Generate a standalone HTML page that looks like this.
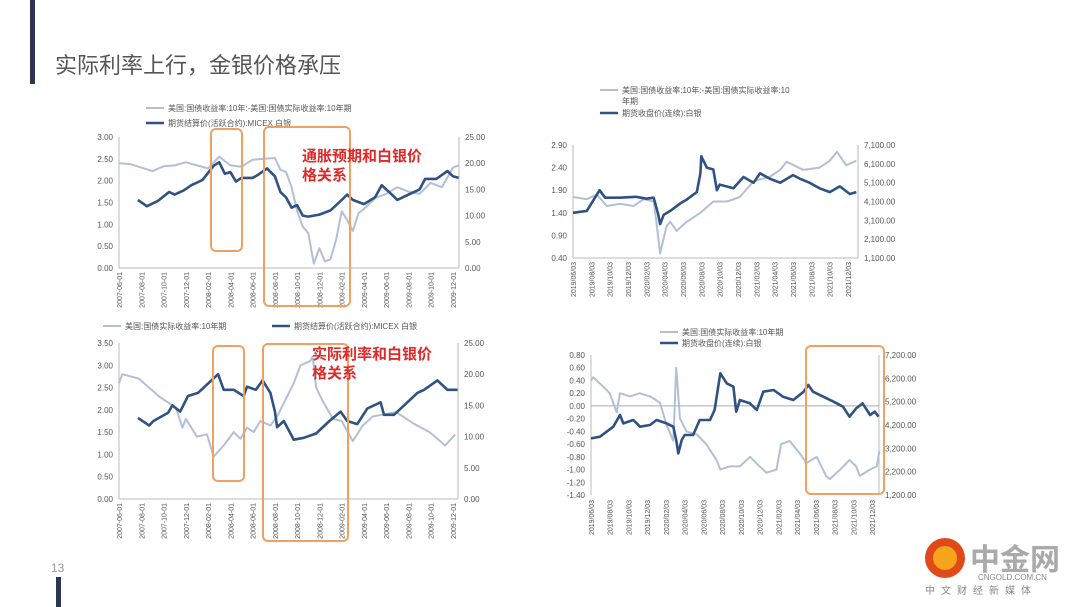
<!DOCTYPE html>
<html><head><meta charset="utf-8"><style>
html,body{margin:0;padding:0;background:#fff;}
svg{display:block;font-family:"Liberation Sans","Noto Sans CJK SC",sans-serif;}
</style></head><body>
<svg id="s" width="1080" height="607" viewBox="0 0 1080 607" xmlns="http://www.w3.org/2000/svg">
<rect x="0" y="0" width="1080" height="607" fill="#fff"/>
<rect x="30" y="0" width="5" height="84" fill="#2e3550"/>
<text x="55" y="73" font-size="22" fill="#555">实际利率上行，金银价格承压</text>
<text x="51" y="572" font-size="12" fill="#999">13</text>
<rect x="56" y="577" width="5" height="30" fill="#2e3550"/>
<g>
<circle cx="945" cy="558" r="20" fill="#e04a1a"/>
<circle cx="945" cy="558" r="12" fill="#f7a51c"/>
<text x="970" y="570" font-size="30" font-weight="bold" fill="#aaa">中金网</text>
<text x="978" y="580" font-size="8" fill="#888">CNGOLD.COM.CN</text>
<text x="925" y="594" font-size="10" fill="#888" letter-spacing="6">中文财经新媒体</text>
</g>
</svg>
<script>
// ---- Chart 1 data (months from 2007-06) ----
const c1LightM=[0,1,2,3,4,5,6,7,8,9,10,11,12,13,14,14.5,15,15.5,16,16.5,17,17.5,18,18.5,19,19.5,20,20.5,21,21.5,22,23,24,25,26,27,28,29,30,30.5];
const c1LightV=[2.40,2.38,2.30,2.22,2.33,2.35,2.42,2.35,2.28,2.55,2.35,2.32,2.48,2.50,2.52,2.25,2.20,1.85,1.30,0.95,0.80,0.10,0.45,0.15,0.20,0.65,1.30,1.10,0.85,1.25,1.35,1.60,1.70,1.85,1.75,1.70,1.95,1.85,2.30,2.35];
const c1DarkM=[1.7,2.5,3.5,4.5,5,5.8,6.5,7.5,8.5,9,9.5,10,10.5,11,12,12.5,13.3,14,14.5,15,15.5,16,16.5,17,18,19,20,20.5,21,22,23,23.6,24.5,25,26,27,27.5,28.5,29.5,30,30.5];
const c1DarkV=[13,11.8,12.8,14.5,14,14.8,15.8,16.8,19.5,20.2,18,18.3,16.5,17.2,17.2,17.8,19,17.5,14.5,13.5,11.5,12,10,9.8,10.2,11,13,14,13,12.2,13.5,15.8,14,13,14,15,17,17,18.5,17.5,17.2];
// ---- Chart 3 data ----
const c3LightM=[0,0.3,1.8,3.6,5.1,5.7,6,7,7.9,8.5,9.4,10.3,10.9,11.5,12.1,12.7,13.6,14.2,15.7,16.3,17.2,17.4,17.7,18.3,19.2,20,21,21.9,22.8,24.9,26.4,27.9,29.3,30.2];
const c3LightV=[2.60,2.80,2.70,2.30,2.05,1.60,1.80,1.40,1.45,0.95,1.20,1.50,1.35,1.60,1.50,1.75,1.65,1.85,2.60,3.00,3.10,3.20,2.50,2.20,1.80,1.75,1.30,1.65,1.85,1.95,1.70,1.50,1.20,1.45];
const c3DarkM=[1.7,2.7,3.1,4.1,4.4,4.8,5.5,6.2,7.1,8.9,9.4,10.3,11.2,11.5,12.3,12.9,13.6,14.0,14.2,14.8,15.7,16.6,17.7,18.9,19.9,20.5,21.4,22.3,23.5,23.8,24.7,25.9,26.8,27.4,28.6,29.5,30.1,30.4];
const c3DarkV=[13,11.8,12.5,13.5,13.8,15,14,16.5,17,20,17.5,17.5,16.5,18,17.5,19,17,14,11.5,12.5,9.5,9.8,10.5,12.5,14,12.5,12,14.5,15.5,13.5,13.5,15.5,17,17.5,19,17.5,17.5,17.5];
// ---- Chart 2 data (months from 2019/06/03) ----
const c2LightM=[0,1.5,2.6,3.7,5.1,6.6,7.7,8.8,9.1,9.5,10.2,10.6,11.3,12.4,13.9,15.3,16.8,18.2,19.7,21.5,22.6,23.3,25.1,26.9,28.0,28.8,29.8,30.9];
const c2LightV=[1.75,1.70,1.80,1.55,1.60,1.55,1.70,1.65,1.20,0.50,1.10,1.20,1.00,1.20,1.40,1.65,1.65,1.75,2.10,2.20,2.35,2.53,2.35,2.40,2.55,2.75,2.45,2.55];
const c2DarkM=[0,1.5,2.9,3.5,5.1,6.9,8.0,8.8,9.3,9.5,9.9,10.6,11.7,12.4,13.5,13.9,14.0,14.6,15.3,15.7,16.0,17.5,18.6,19.7,20.4,21.5,22.6,24.0,24.8,25.8,26.9,28.0,29.1,30.2,30.9];
const c2DarkV=[3500,3600,4700,4300,4300,4350,4250,4300,3400,2900,3400,3600,4000,4200,4600,5600,6500,5900,5800,4700,5000,4800,5400,5100,5600,5300,5100,5500,5300,5100,4800,4600,4900,4500,4600];
// ---- Chart 4 data ----
const c4LightM=[0,0.25,1.32,2.0,2.74,3.1,4.16,5.2,6.3,7.36,8.07,8.79,9.1,9.5,10.2,11.3,12.3,13.4,13.8,14.8,15.9,16.97,18.0,18.75,19.8,20.3,21.2,22.3,23.0,24.1,25.1,25.5,26.6,27.6,28.3,28.7,29.8,30.5,30.8];
const c4LightV=[0.40,0.45,0.30,0.20,-0.10,0.20,0.15,0.20,0.15,0.05,-0.30,-0.55,0.60,-0.20,-0.40,-0.45,-0.60,-0.85,-1.00,-0.95,-0.95,-0.80,-0.95,-1.05,-1.00,-0.60,-0.55,-0.75,-0.90,-0.80,-1.10,-1.15,-1.00,-0.85,-0.95,-1.10,-1.00,-0.95,-0.70];
const c4DarkM=[0,0.96,1.67,2.38,3.1,3.45,4.52,5.23,6.3,7.0,8.07,8.79,9.1,9.32,9.68,10.0,10.9,11.6,12.7,13.2,13.8,14.5,15.2,15.5,15.9,16.97,17.7,18.4,19.5,20.5,21.6,22.7,23.2,23.7,24.8,25.9,26.9,27.6,28.3,29.0,29.8,30.3,30.7];
const c4DarkV=[3627,3700,3913,4127,4627,4270,4413,4127,4199,4413,4270,4127,3556,2984,3556,3770,3770,4413,4413,4842,6414,5985,5842,4770,5270,5127,4842,5628,5699,5413,5270,5628,5913,5628,5413,5199,4985,4556,4913,5127,4627,4770,4556];
// ---- tick labels ----
const c1LeftTicks=[0,0.5,1,1.5,2,2.5,3];
const c1RightTicks=[0,5,10,15,20,25];
const c3LeftTicks=[0,0.5,1,1.5,2,2.5,3,3.5];
const c2LeftTicks=[0.4,0.9,1.4,1.9,2.4,2.9];
const c2RightTicks=[1100,2100,3100,4100,5100,6100,7100];
const c4LeftTicks=[0.8,0.6,0.4,0.2,0,-0.2,-0.4,-0.6,-0.8,-1.0,-1.2,-1.4];
const c4RightTicks=[1200,2200,3200,4200,5200,6200,7200];
const dates2007=["2007-06-01","2007-08-01","2007-10-01","2007-12-01","2008-02-01","2008-04-01","2008-06-01","2008-08-01","2008-10-01","2008-12-01","2009-02-01","2009-04-01","2009-06-01","2009-08-01","2009-10-01","2009-12-01"];
const dates2019=["2019/06/03","2019/08/03","2019/10/03","2019/12/03","2020/02/03","2020/04/03","2020/06/03","2020/08/03","2020/10/03","2020/12/03","2021/02/03","2021/04/03","2021/06/03","2021/08/03","2021/10/03","2021/12/03"];

const NS="http://www.w3.org/2000/svg";
const svg=document.getElementById('s');
function mk(tag,attrs,parent){const e=document.createElementNS(NS,tag);for(const k in attrs)e.setAttribute(k,attrs[k]);(parent||svg).appendChild(e);return e;}
function fmt(v,d,comma){let s=v.toFixed(d);if(comma){const p=s.split('.');p[0]=p[0].replace(/\B(?=(\d{3})+(?!\d))/g,',');s=p.join('.');}return s;}

function chart(o){
  const g=mk('g',{});
  
  
  const xs=m=>o.x0+(m-o.m0)*(o.xl-o.x0)/(o.m1-o.m0);
  const yl=v=>o.yb+(v-o.lmin)*(o.yt-o.yb)/(o.lmax-o.lmin);
  const yr=v=>o.yb+(v-o.rmin)*(o.yt-o.yb)/(o.rmax-o.rmin);
  const la=mk('line',{x1:o.x0,x2:o.x0,y1:o.yt,y2:o.yb,stroke:'#bbb','stroke-width':1},g);
  
  const ra=mk('line',{x1:o.xr,x2:o.xr,y1:o.yt,y2:o.yb,stroke:'#bbb','stroke-width':1},g);
  
  if(o.zero!==undefined){const z=mk('line',{x1:o.x0,x2:o.xr,y1:yl(o.zero),y2:yl(o.zero),stroke:'#aaa','stroke-width':1},g);
    }
  else{const b=mk('line',{x1:o.x0,x2:o.xr,y1:o.yb,y2:o.yb,stroke:'#bbb','stroke-width':1},g);
    }
  o.lt.forEach(v=>{const t=mk('text',{x:o.x0-6,y:yl(v)+3,'font-size':8,fill:'#555','text-anchor':'end'},g);t.textContent=fmt(v,2);
    });
  o.rt.forEach(v=>{const t=mk('text',{x:o.xr+6,y:yr(v)+3,'font-size':8,fill:'#555'},g);t.textContent=fmt(v,2,o.comma);
    });
  o.dates.forEach((d,i)=>{const x=xs(o.m0+i*2)+3;const t=mk('text',{x:x,y:o.dy,'font-size':7,fill:'#555','text-anchor':'end',transform:`rotate(-90 ${x} ${o.dy})`},g);t.textContent=d;
    });
  const path=(M,V,sc)=>M.map((m,i)=>(i?'L':'M')+xs(m).toFixed(1)+','+sc(V[i]).toFixed(1)).join('');
  const p1=mk('path',{d:path(o.lm,o.lv,yl),fill:'none',stroke:'#b3bfd5','stroke-width':2,'stroke-linejoin':'round'},g);
  
  const p2=mk('path',{d:path(o.dm,o.dv,yr),fill:'none',stroke:'#2f5282','stroke-width':2.6,'stroke-linejoin':'round'},g);
  
  o.legend.forEach(L=>{
    const l=mk('line',{x1:L.x,x2:L.x+18,y1:L.y-3,y2:L.y-3,stroke:L.c,'stroke-width':L.w},g);
    
    L.t.forEach((s,i)=>{const t=mk('text',{x:L.x+22,y:L.y+i*11,'font-size':8,fill:'#555'},g);t.textContent=s;
      });
  });
}
chart({name:'chart-breakeven-vs-silver-2007',x0:119,xr:459,m0:0,m1:30,xl:453,yt:137,yb:268,lmin:0,lmax:3,rmin:0,rmax:25,lt:c1LeftTicks,rt:c1RightTicks,dates:dates2007,dy:272,lm:c1LightM,lv:c1LightV,dm:c1DarkM,dv:c1DarkV,
 legend:[{x:146,y:111,c:'#b3bfd5',w:2,t:['美国:国债收益率:10年:-美国:国债实际收益率:10年期']},{x:146,y:126,c:'#2f5282',w:2.6,t:['期货结算价(活跃合约):MICEX  白银']}]});
chart({name:'chart-real-yield-vs-silver-2007',x0:119,xr:458,m0:0,m1:30,xl:453,yt:343,yb:499,lmin:0,lmax:3.5,rmin:0,rmax:25,lt:c3LeftTicks,rt:c1RightTicks,dates:dates2007,dy:503,lm:c3LightM,lv:c3LightV,dm:c3DarkM,dv:c3DarkV,
 legend:[{x:103,y:329,c:'#b3bfd5',w:2,t:['美国:国债实际收益率:10年期']},{x:272,y:329,c:'#2f5282',w:2.6,t:['期货结算价(活跃合约):MICEX  白银']}]});
chart({name:'chart-breakeven-vs-silver-2019',x0:573,xr:858,m0:0,m1:30,xl:848,yt:145,yb:258,lmin:0.4,lmax:2.9,rmin:1100,rmax:7100,comma:true,lt:c2LeftTicks,rt:c2RightTicks,dates:dates2019,dy:262,lm:c2LightM,lv:c2LightV,dm:c2DarkM,dv:c2DarkV,
 legend:[{x:600,y:93,c:'#b3bfd5',w:2,t:['美国:国债收益率:10年:-美国:国债实际收益率:10','年期']},{x:600,y:116,c:'#2f5282',w:2.6,t:['期货收盘价(连续):白银']}]});
chart({name:'chart-real-yield-vs-silver-2019',x0:591,xr:879,m0:0,m1:30,xl:872,yt:355,yb:495,lmin:-1.4,lmax:0.8,rmin:1200,rmax:7200,comma:true,zero:0,lt:c4LeftTicks,rt:c4RightTicks,dates:dates2019,dy:500,lm:c4LightM,lv:c4LightV,dm:c4DarkM,dv:c4DarkV,
 legend:[{x:660,y:335,c:'#b3bfd5',w:2,t:['美国:国债实际收益率:10年期']},{x:660,y:346,c:'#2f5282',w:2.6,t:['期货收盘价(连续):白银']}]});

// highlight boxes & annotations
const boxes=[[211,129,31,122],[264,127,86,179],[213,346,31,135],[263,344,85,197],[806,346,78,148]];
boxes.forEach(b=>{const r=mk('rect',{x:b[0],y:b[1],width:b[2],height:b[3],rx:5,fill:'none',stroke:'#f0a060','stroke-width':2});
 });
[[302,161,'通胀预期和白银价'],[302,180,'格关系'],[312,359,'实际利率和白银价'],[312,378,'格关系']].forEach(a=>{
 const t=mk('text',{x:a[0],y:a[1],'font-size':15,'font-weight':'bold',fill:'#e02828'});t.textContent=a[2];
 });
</script>
</body></html>
